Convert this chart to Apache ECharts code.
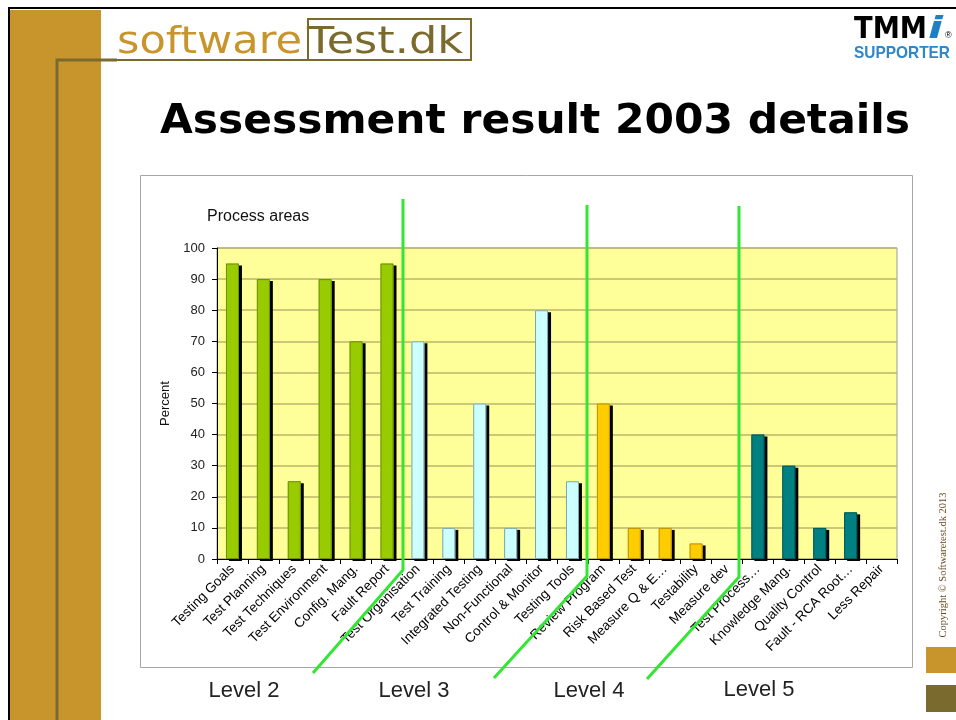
<!DOCTYPE html>
<html>
<head>
<meta charset="utf-8">
<script src="https://cdn.jsdelivr.net/npm/echarts@6/dist/echarts.min.js"></script>
<style>
  html, body { margin: 0; padding: 0; background: #fff; }
  #main { width: 956px; height: 720px; }
</style>
</head>
<body>
<div id="main"></div>
<script>
// process areas (x axis)
var categories = [
  'Testing Goals', 'Test Planning', 'Test Techniques', 'Test Environment', 'Config. Mang.', 'Fault Report',
  'Test Organisation', 'Test Training', 'Integrated Testing', 'Non-Functional', 'Control & Monitor', 'Testing Tools',
  'Review Program', 'Risk Based Test', 'Measure Q & E\u2026', 'Testability', 'Measure dev',
  'Test Process\u2026', 'Knowledge Mang.', 'Quality Control', 'Fault - RCA Root\u2026', 'Less Repair'
];
// percent per area
var percents = [
  95, 90, 25, 90, 70, 95,
  70, 10, 50, 10, 80, 25,
  50, 10, 10, 5, 0,
  40, 30, 10, 15, 0
];
// maturity level of each area
var levels = [
  2, 2, 2, 2, 2, 2,
  3, 3, 3, 3, 3, 3,
  4, 4, 4, 4, 4,
  5, 5, 5, 5, 5
];
var levelNames = ['Level 2', 'Level 3', 'Level 4', 'Level 5'];
var yTicks = [0, 10, 20, 30, 40, 50, 60, 70, 80, 90, 100];

// colours per level
var fillColors = { 2: '#99CC00', 3: '#CCFFFF', 4: '#FFCC00', 5: '#008080' };
var edgeColors = { 2: '#6f8f10', 3: '#7fa3a8', 4: '#b8930a', 5: '#00595a' };

var gold = '#C8952C';
var olive = '#7A6A2E';
var lineGreen = '#33E633';

// stretch a text to a given width (the slide fonts are wider than ours)
var measureCtx = document.createElement('canvas').getContext('2d');
function fitScale(text, font, width) {
  measureCtx.font = font;
  return width / measureCtx.measureText(text).width;
}
function fittedText(text, font, color, x, y, width) {
  return {
    type: 'text', x: x, y: y, scaleX: fitScale(text, font, width),
    style: { text: text, font: font, fill: color, align: 'left', verticalAlign: 'middle' }
  };
}

var shadowData = [];
var barData = [];
for (var i = 0; i < percents.length; i++) {
  shadowData.push({ value: percents[i], itemStyle: { color: fillColors[levels[i]] } });
  barData.push({
    value: percents[i],
    itemStyle: {
      color: fillColors[levels[i]],
      borderColor: edgeColors[levels[i]],
      borderWidth: percents[i] > 0 ? 1 : 0
    }
  });
}

var myChart = echarts.init(document.getElementById('main'), null, { renderer: 'canvas' });

var labelFont = 'Liberation Sans';

var option = {
  backgroundColor: '#fff',
  animation: false,
  title: {
    text: 'Process areas',
    left: 207,
    top: 209,
    padding: 0,
    textStyle: { fontFamily: labelFont, fontSize: 16, fontWeight: 'normal', color: '#111' }
  },
  grid: {
    left: 217,
    right: 59,
    top: 248,
    bottom: 161,
    show: true,
    backgroundColor: '#FFFF99',
    borderColor: '#9a9a9a',
    borderWidth: 1
  },
  xAxis: {
    type: 'category',
    data: categories,
    axisLine: { lineStyle: { color: '#000', width: 1 } },
    axisTick: { show: true, length: 5, lineStyle: { color: '#000' } },
    axisLabel: {
      interval: 0,
      rotate: 45,
      margin: 8,
      fontFamily: labelFont,
      fontSize: 13.5,
      color: '#000'
    }
  },
  yAxis: {
    type: 'value',
    min: yTicks[0],
    max: yTicks[yTicks.length - 1],
    interval: 10,
    name: 'Percent',
    nameLocation: 'middle',
    nameGap: 44,
    nameTextStyle: { fontFamily: labelFont, fontSize: 13, color: '#111' },
    axisLine: { show: true, lineStyle: { color: '#000', width: 1 } },
    axisTick: { show: true, length: 5, lineStyle: { color: '#000' } },
    axisLabel: { fontFamily: labelFont, fontSize: 13, color: '#222', margin: 12 },
    splitLine: { lineStyle: { color: '#bdb66e', width: 1.5 } }
  },
  series: [
    {
      // drop shadow behind each bar
      type: 'bar',
      data: shadowData,
      barWidth: 13,
      z: 2,
      itemStyle: {
        borderWidth: 0,
        shadowColor: '#000',
        shadowBlur: 0,
        shadowOffsetX: 3,
        shadowOffsetY: 2
      }
    },
    {
      type: 'bar',
      data: barData,
      barWidth: 13,
      barGap: '-100%',
      z: 3
    }
  ],
  graphic: [
    // frame of the slide
    { type: 'rect', shape: { x: 10, y: 10, width: 91, height: 710 }, style: { fill: gold }, z: 1 },
    { type: 'line', shape: { x1: 8, y1: 8, x2: 956, y2: 8 }, style: { stroke: '#000', lineWidth: 2 } },
    { type: 'line', shape: { x1: 9, y1: 8, x2: 9, y2: 720 }, style: { stroke: '#000', lineWidth: 2 } },
    { type: 'polyline', shape: { points: [[57, 720], [57, 60], [117, 60]] }, style: { stroke: olive, lineWidth: 3, fill: null }, z: 2 },
    { type: 'line', shape: { x1: 117, y1: 60, x2: 471, y2: 60 }, style: { stroke: olive, lineWidth: 2 }, z: 2 },
    // softwareTest.dk logo
    { type: 'rect', shape: { x: 308, y: 19, width: 163, height: 41 }, style: { fill: null, stroke: olive, lineWidth: 2 } },
    fittedText('software', '38px "DejaVu Sans"', gold, 117, 43, 185),
    fittedText('Test.dk', '38px "DejaVu Sans"', olive, 307, 43, 156),
    // TMMi logo
    fittedText('TMM', 'bold 30px "DejaVu Sans"', '#000', 854, 30, 73),
    fittedText('i', 'italic bold 30px "DejaVu Sans"', '#1f7fc4', 928, 30, 15),
    { type: 'text', x: 945, y: 36, style: { text: '\u00AE', font: '9px "Liberation Sans"', fill: '#000', verticalAlign: 'middle' } },
    fittedText('SUPPORTER', 'bold 17px "Liberation Sans"', '#2f86c8', 854, 53, 96),
    // title
    fittedText('Assessment result 2003 details', 'bold 40px "DejaVu Sans"', '#000', 160, 123, 750),
    // chart box
    { type: 'rect', shape: { x: 140.5, y: 175.5, width: 772, height: 492 }, style: { fill: null, stroke: '#a6a6a6', lineWidth: 1 }, z: -1 },
    // level separators
    { type: 'polyline', shape: { points: [[403, 199], [403, 570], [313, 673]] }, style: { stroke: lineGreen, lineWidth: 3, fill: null }, z: 50 },
    { type: 'polyline', shape: { points: [[587, 205], [587, 576], [494, 678]] }, style: { stroke: lineGreen, lineWidth: 3, fill: null }, z: 50 },
    { type: 'polyline', shape: { points: [[739, 206], [739, 577], [647, 679]] }, style: { stroke: lineGreen, lineWidth: 3, fill: null }, z: 50 },
    // level names
    { type: 'text', x: 244, y: 691, style: { text: levelNames[0], font: '22px "Liberation Sans"', fill: '#222', align: 'center', verticalAlign: 'middle' } },
    { type: 'text', x: 414, y: 691, style: { text: levelNames[1], font: '22px "Liberation Sans"', fill: '#222', align: 'center', verticalAlign: 'middle' } },
    { type: 'text', x: 589, y: 691, style: { text: levelNames[2], font: '22px "Liberation Sans"', fill: '#222', align: 'center', verticalAlign: 'middle' } },
    { type: 'text', x: 759, y: 690, style: { text: levelNames[3], font: '22px "Liberation Sans"', fill: '#222', align: 'center', verticalAlign: 'middle' } },
    // copyright and squares on the right
    { type: 'text', x: 943, y: 565, rotation: Math.PI / 2, style: { text: 'Copyright \u00A9 Softwaretest.dk 2013', font: '10.5px "Liberation Serif"', fill: '#6b4a22', align: 'center', verticalAlign: 'middle' } },
    { type: 'rect', shape: { x: 926, y: 647, width: 30, height: 26 }, style: { fill: gold } },
    { type: 'rect', shape: { x: 926, y: 685, width: 30, height: 27 }, style: { fill: olive } }
  ]
};

myChart.setOption(option);
</script>
</body>
</html>
